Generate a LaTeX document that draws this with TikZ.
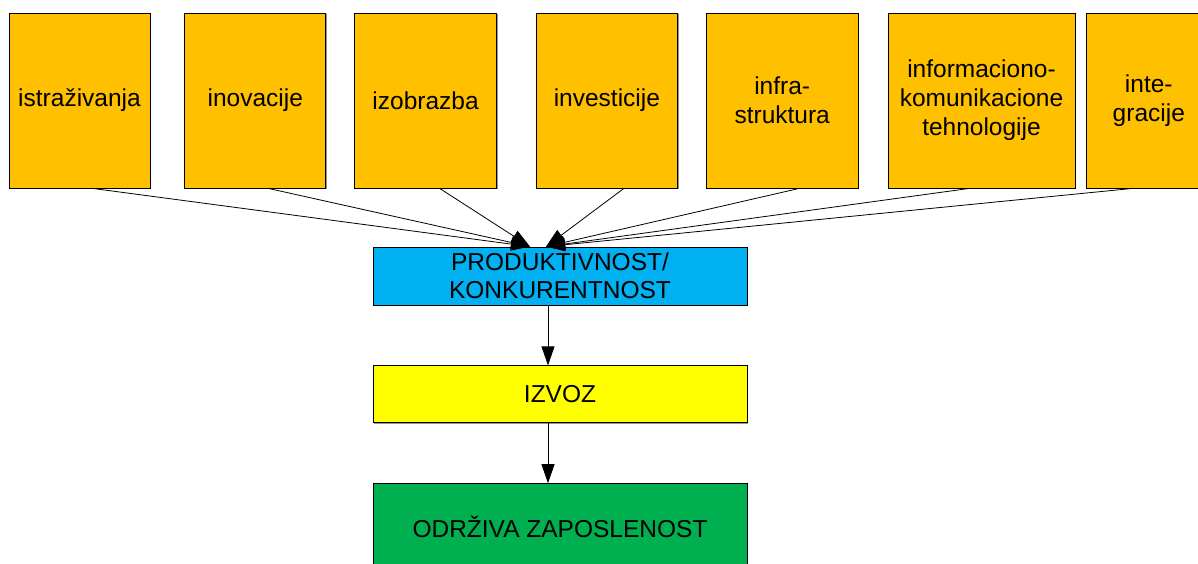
\documentclass[tikz,border=0pt]{standalone}
\usepackage{fontspec}
\setmainfont{Liberation Sans}
\usepackage{xcolor}
\definecolor{factorOrange}{HTML}{FFC000}
\definecolor{prodBlue}{HTML}{00B0F0}
\definecolor{exportYellow}{HTML}{FFFF00}
\definecolor{jobsGreen}{HTML}{00B050}
\usepackage{tikz}
\usetikzlibrary{positioning,arrows.meta,shadows}
\tikzset{%
  factorBox/.style={%
    rectangle,
    draw=black,
    fill=factorOrange,
    line width=0.8pt,
    minimum height=175pt,
    inner sep=1pt,
    align=center,
    font=\fontsize{24.5}{29}\selectfont,
    drop shadow={shadow xshift=1.2pt,shadow yshift=-1.2pt,fill=black!70,opacity=0.6}
  },
  resultBox/.style={%
    rectangle,
    draw=black,
    line width=0.8pt,
    minimum width=374pt,
    align=center,
    font=\fontsize{24.5}{28}\selectfont,
    drop shadow={shadow xshift=1.2pt,shadow yshift=-1.2pt,fill=black!70,opacity=0.6}
  },
  arrowLine/.style={%
    -{Triangle[length=19pt,width=13pt]},
    line width=0.8pt,
    color=black
  }
}

\begin{document}
\begin{tikzpicture}[x=1pt,y=-1pt]
            \clip (0,0) rectangle (1198,564);
            \useasboundingbox (0,0) rectangle (1198,564);

            \node[factorBox, minimum width=141pt] (istr) at (79.5,100.5) {istraživanja};
            \node[factorBox, minimum width=141pt, right=34pt of istr] (inov) {inovacije};
            \node[factorBox, minimum width=142pt, right=28pt of inov] (izob) {izobrazba};
            \node[factorBox, minimum width=141pt, right=39pt of izob] (inves) {investicije};
            \node[factorBox, minimum width=152pt, right=28pt of inves] (infra) {infra-\\struktura};
            \node[factorBox, minimum width=187pt, right=29pt of infra] (ikt) {informaciono-\\komunikacione\\tehnologije};
            \node[factorBox, minimum width=124pt, right=11pt of ikt] (integ) {inte-\\gracije};

            \node[resultBox, fill=prodBlue, minimum height=58pt] (prod) at (560,276) {PRODUKTIVNOST/\\KONKURENTNOST};
            \node[resultBox, fill=exportYellow, minimum height=57pt, below=60pt of prod] (izvoz) {IZVOZ};
            \node[resultBox, fill=jobsGreen, minimum height=86pt, below=60pt of izvoz] (odrz) {ODRŽIVA ZAPOSLENOST};

            \coordinate (tipL) at ([xshift=-30pt]prod.north);
            \coordinate (tipR) at ([xshift=-14pt]prod.north);

            \foreach \src/\dx/\tip in {istr/13/tipL, inov/13/tipL, izob/14/tipL,
                                       inves/17/tipR, infra/17/tipR, ikt/-12/tipR, integ/-16/tipR}
              \draw[arrowLine] ([xshift=\dx pt]\src.south) -- (\tip);

            \draw[arrowLine] ([xshift=-12pt]prod.south) -- ([xshift=-12pt]izvoz.north);
            \draw[arrowLine] ([xshift=-12pt]izvoz.south) -- ([xshift=-12pt]odrz.north);
        \end{tikzpicture}
\end{document}
